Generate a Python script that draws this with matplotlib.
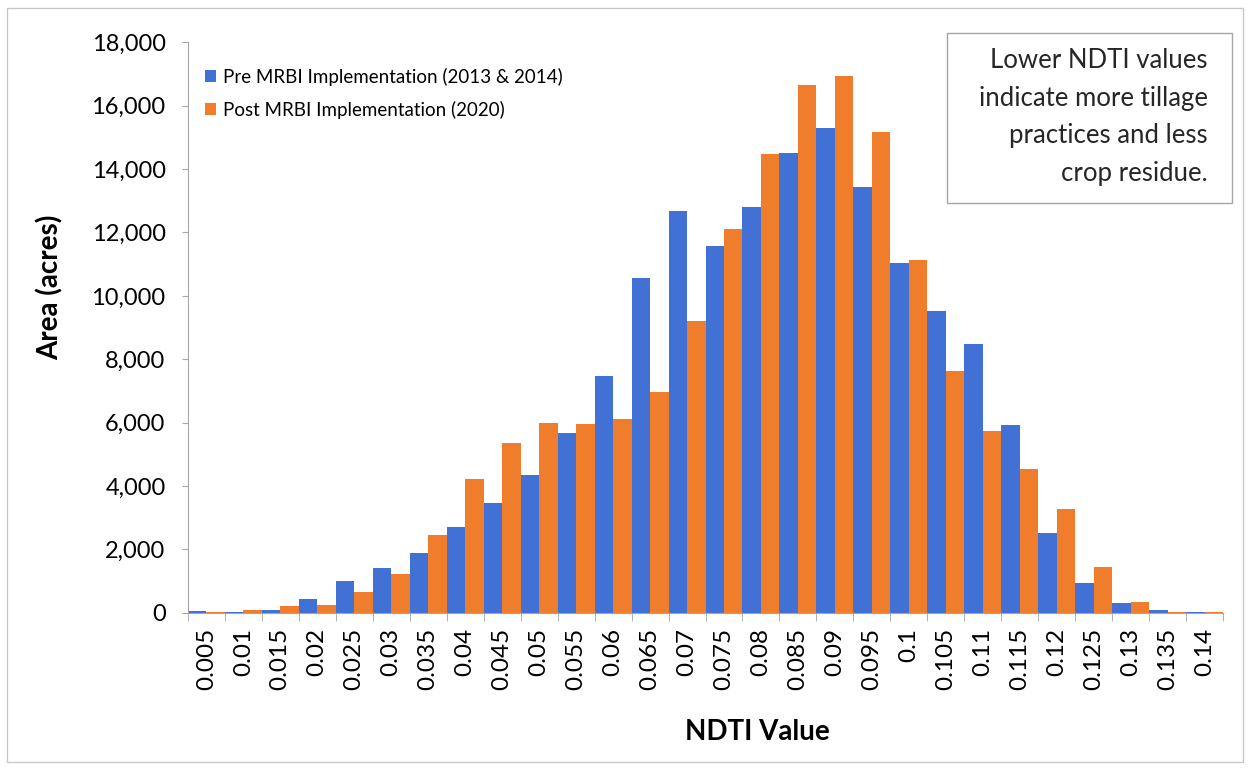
import matplotlib
matplotlib.use("Agg")
import matplotlib.pyplot as plt
import numpy as np
from matplotlib.ticker import FuncFormatter, FixedLocator
from matplotlib.patches import Rectangle

plt.rcParams["font.family"] = ["Lato", "DejaVu Sans"]

# NDTI bins and area (acres) per bin
ndti = ["0.005", "0.01", "0.015", "0.02", "0.025", "0.03", "0.035", "0.04",
        "0.045", "0.05", "0.055", "0.06", "0.065", "0.07", "0.075", "0.08",
        "0.085", "0.09", "0.095", "0.1", "0.105", "0.11", "0.115", "0.12",
        "0.125", "0.13", "0.135", "0.14"]
pre_mrbi = [50, 30, 100, 440, 1000, 1420, 1890, 2710, 3460, 4350, 5670, 7460,
            10550, 12690, 11560, 12820, 14520, 15310, 13450, 11040, 9530, 8480,
            5920, 2530, 950, 300, 80, 30]
post_mrbi = [30, 80, 230, 250, 660, 1240, 2460, 4220, 5350, 5980, 5960, 6110,
             6960, 9200, 12120, 14480, 16660, 16950, 15170, 11130, 7620, 5730,
             4540, 3270, 1450, 350, 40, 20]

blue = "#4171D4"
orange = "#F07D2C"

fig = plt.figure(figsize=(12.52, 7.69), dpi=100)
ax = fig.add_axes([0.150, 0.203, 0.827, 0.742])

x = np.arange(len(ndti))
w = 0.5
ax.bar(x - w / 2, pre_mrbi, width=w, color=blue, label="Pre MRBI Implementation (2013 & 2014)")
ax.bar(x + w / 2, post_mrbi, width=w, color=orange, label="Post MRBI Implementation (2020)")

ax.set_xlim(-0.5, len(ndti) - 0.5)
ax.set_ylim(0, 18000)
ax.set_yticks(np.arange(0, 18001, 2000))
ax.yaxis.set_major_formatter(FuncFormatter(lambda v, p: f"{int(v):,}"))
ax.set_xticks(x)
ax.set_xticklabels(ndti, rotation=90)
ax.xaxis.set_minor_locator(FixedLocator(np.arange(-0.5, len(ndti), 1)))
ax.tick_params(axis="x", which="major", length=0, labelsize=17.5, pad=11)
ax.tick_params(axis="x", which="minor", length=6, color="#a6a6a6", direction="out")
ax.tick_params(axis="y", length=4, color="#a6a6a6", labelsize=17, pad=12)

for s in ["top", "right"]:
    ax.spines[s].set_visible(False)
for s in ["left", "bottom"]:
    ax.spines[s].set_color("#a6a6a6")

# axis titles placed where the reference has them
fig.text(757 / 1252, 1 - 732 / 769, "NDTI Value", fontsize=20, fontweight="bold",
         ha="center", va="center")
fig.text(50 / 1252, 1 - 287 / 769, "Area (acres)", fontsize=20, fontweight="bold",
         ha="center", va="center", rotation=90)

ax.legend(loc="upper left", bbox_to_anchor=(0.0, 0.985), frameon=False, fontsize=13.5,
          handlelength=0.6, handleheight=0.6, handletextpad=0.4, labelspacing=0.8)

fig.patches.append(Rectangle((947 / 1252, 1 - 203 / 769), 285 / 1252, 170 / 769,
                             transform=fig.transFigure, fill=False,
                             edgecolor="#a6a6a6", linewidth=1))
fig.text(1208 / 1252, 1 - 117 / 769,
         "Lower NDTI values\nindicate more tillage\npractices and less\ncrop residue.",
         ha="right", va="center", fontsize=18.5, linespacing=1.62, color="#262626")

# outer chart border
fig.patches.append(Rectangle((7 / 1252, 1 - 762 / 769), 1236 / 1252, 754 / 769,
                             transform=fig.transFigure, fill=False,
                             edgecolor="#c8c8c8", linewidth=1))

fig.savefig("out.png", dpi=100)
